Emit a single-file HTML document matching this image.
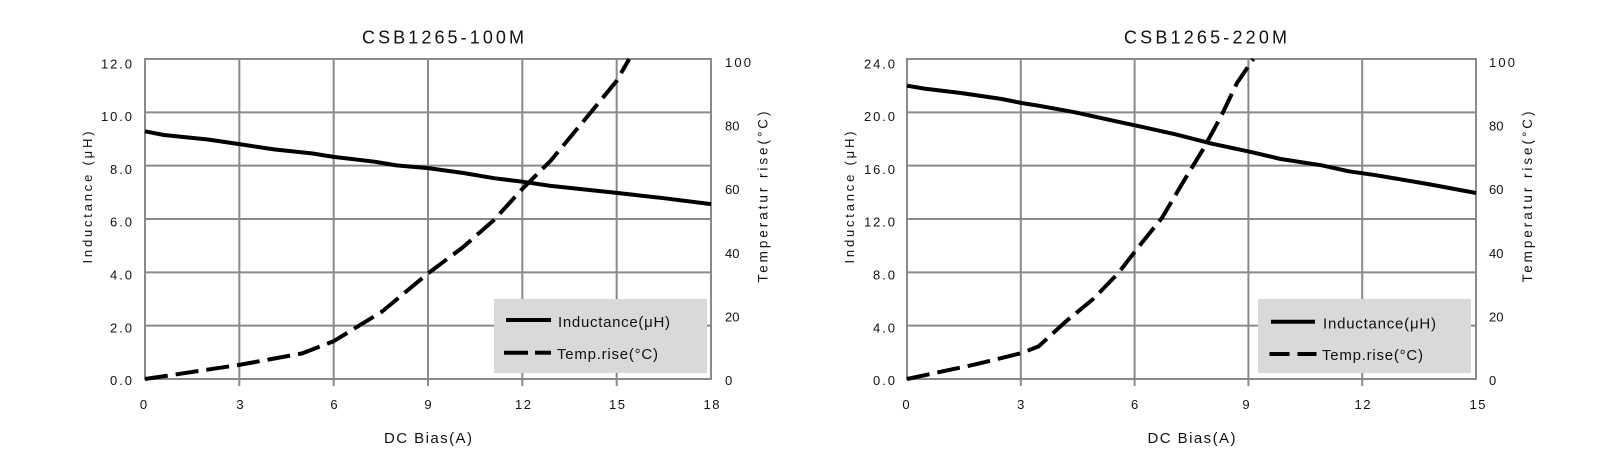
<!DOCTYPE html>
<html>
<head>
<meta charset="utf-8">
<style>
html,body{margin:0;padding:0;background:#fff;}
svg{display:block;}
text{font-family:"Liberation Sans",sans-serif;fill:#111;}
</style>
</head>
<body>
<svg width="1618" height="468" viewBox="0 0 1618 468" xmlns="http://www.w3.org/2000/svg">
<rect x="0" y="0" width="1618" height="468" fill="#fff"/>

<!-- ================= LEFT CHART ================= -->
<g stroke="#8a8a8a" stroke-width="2" fill="none">
  <line x1="239.33" y1="59" x2="239.33" y2="386"/>
  <line x1="333.67" y1="59" x2="333.67" y2="386"/>
  <line x1="428" y1="59" x2="428" y2="386"/>
  <line x1="522.33" y1="59" x2="522.33" y2="386"/>
  <line x1="616.67" y1="59" x2="616.67" y2="386"/>
  <line x1="145" y1="112.33" x2="711" y2="112.33"/>
  <line x1="145" y1="165.67" x2="711" y2="165.67"/>
  <line x1="145" y1="219" x2="711" y2="219"/>
  <line x1="145" y1="272.33" x2="711" y2="272.33"/>
  <line x1="145" y1="325.67" x2="711" y2="325.67"/>
  <rect x="145" y="59" width="566" height="320"/>
</g>
<rect x="494" y="299" width="213" height="74" fill="#d9d9d9"/>

<g fill="none" stroke="#000" stroke-width="4" stroke-linejoin="round">
  <path d="M145,131.3 L163.9,135 L207.9,139.5 L239.3,144.1 L273.9,149.4 L311.7,153.4 L333.7,156.9 L374.5,161.7 L396.6,165.4 L428,168.1 L462.6,172.9 L494,178.2 L522.3,181.7 L550.6,185.9 L616.7,192.9 L663.8,198.2 L711,204.1"/>
  <path d="M145,379 L239.3,364.9 L302.2,353.4 L333.7,341.2 L382.1,311.5 L428,273.4 L462.6,247.5 L494,220 L522.3,188.9 L550.6,160.8 L591.5,111.5 L616.7,80.8 L629.2,59" stroke-dasharray="23 8"/>
  <line x1="506" y1="320" x2="551" y2="320"/>
  <line x1="504" y1="352.7" x2="528" y2="352.7"/>
  <line x1="535" y1="352.7" x2="551" y2="352.7"/>
</g>
<text x="558" y="327" font-size="15" textLength="112" lengthAdjust="spacing">Inductance(μH)</text>
<text x="557" y="359" font-size="15" textLength="101" lengthAdjust="spacing">Temp.rise(°C)</text>

<text x="362" y="43.3" font-size="18" textLength="162" lengthAdjust="spacing">CSB1265-100M</text>

<g font-size="13" text-anchor="end">
  <text x="132" y="68.3" textLength="31" lengthAdjust="spacing">12.0</text>
  <text x="132" y="121.1" textLength="31" lengthAdjust="spacing">10.0</text>
  <text x="132" y="173.9" textLength="22" lengthAdjust="spacing">8.0</text>
  <text x="132" y="226.7" textLength="22" lengthAdjust="spacing">6.0</text>
  <text x="132" y="279.5" textLength="22" lengthAdjust="spacing">4.0</text>
  <text x="132" y="332.3" textLength="22" lengthAdjust="spacing">2.0</text>
  <text x="132" y="385" textLength="22" lengthAdjust="spacing">0.0</text>
</g>
<g font-size="13">
  <text x="725" y="67" textLength="26" lengthAdjust="spacing">100</text>
  <text x="725" y="130.6">80</text>
  <text x="725" y="194.2">60</text>
  <text x="725" y="257.8">40</text>
  <text x="725" y="321.4">20</text>
  <text x="725" y="385">0</text>
</g>
<g font-size="13" text-anchor="middle">
  <text x="143.5" y="409">0</text>
  <text x="240" y="409">3</text>
  <text x="334" y="409">6</text>
  <text x="428" y="409">9</text>
  <text x="523" y="409" textLength="16" lengthAdjust="spacing">12</text>
  <text x="617" y="409" textLength="16" lengthAdjust="spacing">15</text>
  <text x="711.5" y="409" textLength="16" lengthAdjust="spacing">18</text>
</g>
<text x="428" y="443" font-size="15" text-anchor="middle" textLength="88" lengthAdjust="spacing">DC Bias(A)</text>
<text transform="translate(92,197.5) rotate(-90)" font-size="13" text-anchor="middle" textLength="132" lengthAdjust="spacing">Inductance (μH)</text>
<text transform="translate(767.5,197) rotate(-90)" font-size="13.5" text-anchor="middle" textLength="171" lengthAdjust="spacing">Temperatur rise(°C)</text>

<!-- ================= RIGHT CHART ================= -->
<g stroke="#8a8a8a" stroke-width="2" fill="none">
  <line x1="1020.8" y1="59" x2="1020.8" y2="386"/>
  <line x1="1134.6" y1="59" x2="1134.6" y2="386"/>
  <line x1="1248.4" y1="59" x2="1248.4" y2="386"/>
  <line x1="1362.2" y1="59" x2="1362.2" y2="386"/>
  <line x1="907" y1="112.33" x2="1476" y2="112.33"/>
  <line x1="907" y1="165.67" x2="1476" y2="165.67"/>
  <line x1="907" y1="219" x2="1476" y2="219"/>
  <line x1="907" y1="272.33" x2="1476" y2="272.33"/>
  <line x1="907" y1="325.67" x2="1476" y2="325.67"/>
  <rect x="907" y="59" width="569" height="320"/>
</g>
<rect x="1258" y="299" width="213" height="74" fill="#d9d9d9"/>

<g fill="none" stroke="#000" stroke-width="4" stroke-linejoin="round">
  <path d="M907,85.7 L924.4,88.6 L960.9,93 L1001.8,99 L1021.5,103 L1038.6,105.7 L1075,112.3 L1111.4,120.3 L1136.5,125.7 L1175.5,134.3 L1212,143.7 L1250.7,151.9 L1280.6,159 L1321.6,165.3 L1348.9,171.3 L1376.6,175.3 L1431.2,184.6 L1476,193"/>
  <path d="M907,379 L938.1,372.3 L974.5,364.6 L1021.5,353.1 L1038.6,346.4 L1065.9,321.4 L1093.2,299 L1118.3,273.1 L1139.1,246.2 L1161.9,218 L1184.6,179.6 L1202.9,149.6 L1221.1,116.3 L1237,83 L1253.3,59" stroke-dasharray="23 8"/>
  <line x1="1271" y1="321.7" x2="1315" y2="321.7"/>
  <line x1="1269.5" y1="354" x2="1289.5" y2="354"/>
  <line x1="1297.5" y1="354" x2="1316.5" y2="354"/>
</g>
<text x="1323" y="328.3" font-size="15" textLength="113" lengthAdjust="spacing">Inductance(μH)</text>
<text x="1322" y="360" font-size="15" textLength="101" lengthAdjust="spacing">Temp.rise(°C)</text>

<text x="1124" y="43.3" font-size="18" textLength="163" lengthAdjust="spacing">CSB1265-220M</text>

<g font-size="13" text-anchor="end">
  <text x="895" y="68.3" textLength="31" lengthAdjust="spacing">24.0</text>
  <text x="895" y="121.1" textLength="31" lengthAdjust="spacing">20.0</text>
  <text x="895" y="173.9" textLength="31" lengthAdjust="spacing">16.0</text>
  <text x="895" y="226.7" textLength="31" lengthAdjust="spacing">12.0</text>
  <text x="895" y="279.5" textLength="22" lengthAdjust="spacing">8.0</text>
  <text x="895" y="332.3" textLength="22" lengthAdjust="spacing">4.0</text>
  <text x="895" y="385" textLength="22" lengthAdjust="spacing">0.0</text>
</g>
<g font-size="13">
  <text x="1489" y="67" textLength="26" lengthAdjust="spacing">100</text>
  <text x="1489" y="130.6">80</text>
  <text x="1489" y="194.2">60</text>
  <text x="1489" y="257.8">40</text>
  <text x="1489" y="321.4">20</text>
  <text x="1489" y="385">0</text>
</g>
<g font-size="13" text-anchor="middle">
  <text x="906" y="409">0</text>
  <text x="1020.8" y="409">3</text>
  <text x="1134.6" y="409">6</text>
  <text x="1246" y="409">9</text>
  <text x="1362.5" y="409" textLength="16" lengthAdjust="spacing">12</text>
  <text x="1477.5" y="409" textLength="16" lengthAdjust="spacing">15</text>
</g>
<text x="1191.5" y="443" font-size="15" text-anchor="middle" textLength="88" lengthAdjust="spacing">DC Bias(A)</text>
<text transform="translate(854,197.5) rotate(-90)" font-size="13" text-anchor="middle" textLength="132" lengthAdjust="spacing">Inductance (μH)</text>
<text transform="translate(1532,197) rotate(-90)" font-size="13.5" text-anchor="middle" textLength="171" lengthAdjust="spacing">Temperatur rise(°C)</text>
</svg>
</body>
</html>
